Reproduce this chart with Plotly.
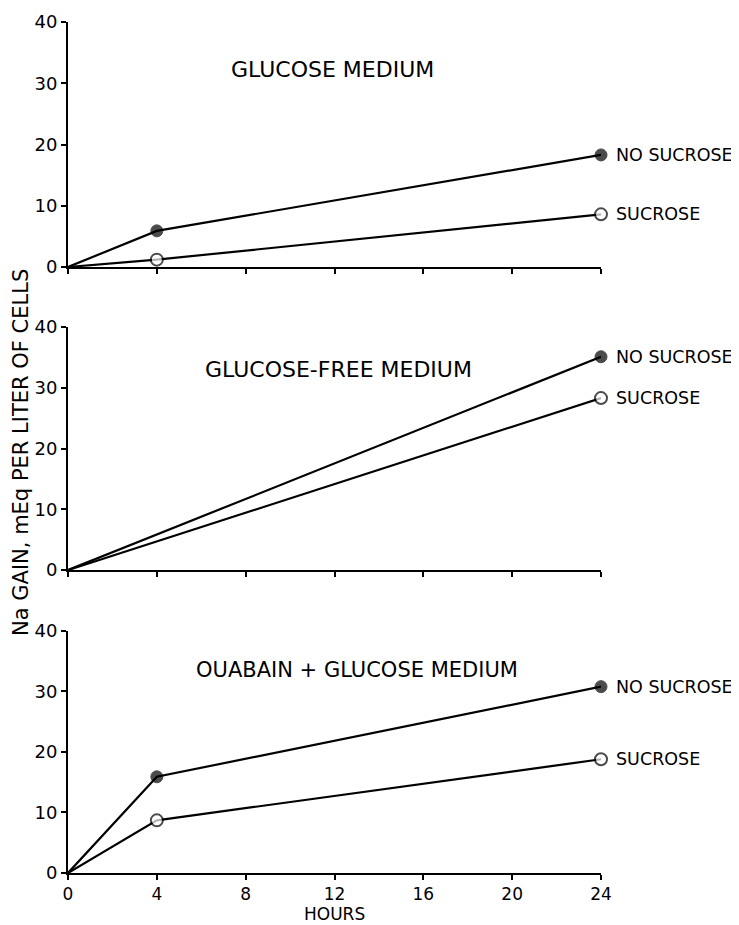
import plotly.graph_objects as go

# time points (hours) and Na gain values
hours = [0, 4, 24]
hours_free = [0, 24]

glc_no_sucrose = [0, 5.9, 18.3]
glc_sucrose = [0, 1.2, 8.6]

free_no_sucrose = [0, 35.1]
free_sucrose = [0, 28.3]

oua_no_sucrose = [0, 15.9, 30.8]
oua_sucrose = [0, 8.7, 18.8]

panel_titles = ["GLUCOSE MEDIUM", "GLUCOSE-FREE MEDIUM", "OUABAIN + GLUCOSE MEDIUM"]
x_ticks = [0, 4, 8, 12, 16, 20, 24]
y_ticks = [0, 10, 20, 30, 40]

FONT = "DejaVu Sans"
BLACK = "black"

fig = go.Figure()

panels = [
    (hours, glc_no_sucrose, glc_sucrose, "x", "y"),
    (hours_free, free_no_sucrose, free_sucrose, "x2", "y2"),
    (hours, oua_no_sucrose, oua_sucrose, "x3", "y3"),
]

for xs, ns, s, xa, ya in panels:
    # no marker drawn at the origin in the original
    sizes = [0] + [12] * (len(xs) - 1)
    fig.add_trace(go.Scatter(
        x=xs, y=ns, xaxis=xa, yaxis=ya, mode="lines+markers",
        line=dict(color=BLACK, width=2.2),
        marker=dict(size=sizes, color=BLACK, line=dict(color=BLACK, width=1)),
        showlegend=False, cliponaxis=False,
    ))
    fig.add_trace(go.Scatter(
        x=xs, y=s, xaxis=xa, yaxis=ya, mode="lines+markers",
        line=dict(color=BLACK, width=2.2),
        marker=dict(size=sizes, color="white", line=dict(color=BLACK, width=2)),
        showlegend=False, cliponaxis=False,
    ))
    # right-hand labels
    fig.add_annotation(x=xs[-1], y=ns[-1], xref=xa, yref=ya, text="NO SUCROSE",
                       showarrow=False, xanchor="left", xshift=13,
                       font=dict(family=FONT, size=17.5, color=BLACK))
    fig.add_annotation(x=xs[-1], y=s[-1], xref=xa, yref=ya, text="SUCROSE",
                       showarrow=False, xanchor="left", xshift=13,
                       font=dict(family=FONT, size=17.5, color=BLACK))

domains = [[0.7121, 1.0], [0.356, 0.6416], [0.0, 0.2844]]
title_pos = [(0.497, 0.9436), (0.5066, 0.5922), (0.5422, 0.2385)]
title_size = [22, 22, 21]

axis_common = dict(
    showline=True, linecolor=BLACK, linewidth=2, showgrid=False, zeroline=False,
    ticks="outside", ticklen=5, tickwidth=1.5, tickcolor=BLACK, automargin=False,
    tickfont=dict(family=FONT, size=18, color=BLACK),
)

# page body has an 8px margin, so the figure is 8px smaller than the window
layout = dict(
    width=731, height=917,
    plot_bgcolor="white", paper_bgcolor="white",
    margin=dict(l=60, r=138, t=14, b=52),
)
for i in range(3):
    sfx = "" if i == 0 else str(i + 1)
    layout["xaxis" + sfx] = dict(
        axis_common, domain=[0, 1], range=[0, 24], tickvals=x_ticks,
        showticklabels=(i == 2), anchor="y" + sfx,
    )
    layout["yaxis" + sfx] = dict(
        axis_common, domain=domains[i], range=[0, 40], tickvals=y_ticks,
        anchor="x" + sfx, ticklabelstandoff=0,
    )
fig.update_layout(**layout)
fig.update_layout(xaxis3=dict(tickfont=dict(size=17)))

for t, (px, py), fs in zip(panel_titles, title_pos, title_size):
    fig.add_annotation(x=px, y=py, xref="paper", yref="paper", text=t, showarrow=False,
                       xanchor="center", yanchor="middle",
                       font=dict(family=FONT, size=fs, color=BLACK))

fig.add_annotation(x=0.5, y=-0.0485, xref="paper", yref="paper", text="HOURS",
                   showarrow=False, xanchor="center", yanchor="middle",
                   font=dict(family=FONT, size=17, color=BLACK))

fig.add_annotation(x=-0.0882, y=0.4947, xref="paper", yref="paper",
                   text="Na GAIN, mEq PER LITER OF CELLS", textangle=-90,
                   xanchor="center", yanchor="middle",
                   showarrow=False, font=dict(family=FONT, size=21, color=BLACK))

fig.write_html("out.html")
